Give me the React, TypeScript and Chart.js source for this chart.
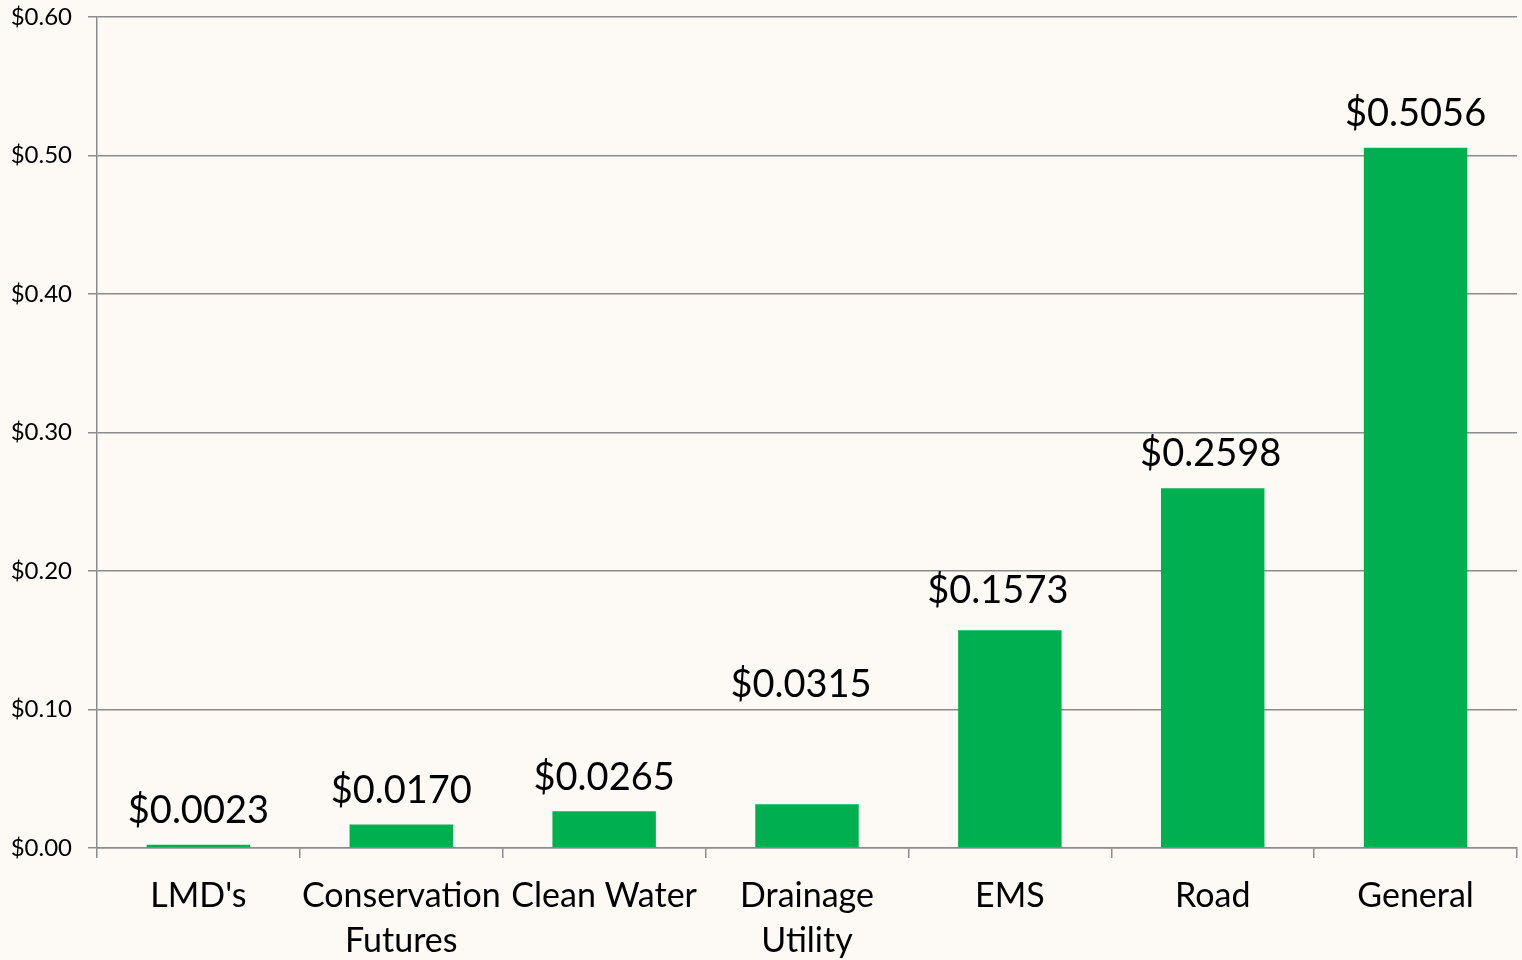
import React, { useEffect, useRef } from "react";
import { Chart, registerables } from "chart.js";

Chart.register(...registerables);

const categories: (string | string[])[] = [
  "LMD's",
  ["Conservation", "Futures"],
  "Clean Water",
  ["Drainage", "Utility"],
  "EMS",
  "Road",
  "General",
];
const values: number[] = [0.0023, 0.017, 0.0265, 0.0315, 0.1573, 0.2598, 0.5056];
const valueLabels: string[] = ["$0.0023", "$0.0170", "$0.0265", "$0.0315", "$0.1573", "$0.2598", "$0.5056"];
const yTicks: number[] = [0, 0.1, 0.2, 0.3, 0.4, 0.5, 0.6];

// extra lift / shift of individual data labels (styling only)
const labelLift: number[] = [0, 0, 0, 86, 5, 0, 0];
const labelShift: number[] = [0, 0, 0, -6, -12, -2, 0];

const FONT = "Lato, 'Open Sans', sans-serif";
const BG = "#FDF9F5";
const GRID = "#8C8C8C";

const dataLabelPlugin = {
  id: "dataLabels",
  afterDatasetsDraw(chart: any) {
    const ctx = chart.ctx;
    const meta = chart.getDatasetMeta(0);
    ctx.save();
    ctx.font = `38px ${FONT}`;
    ctx.fillStyle = "#000";
    ctx.textAlign = "center";
    ctx.textBaseline = "middle";
    meta.data.forEach((bar: any, i: number) => {
      ctx.fillText(valueLabels[i], bar.x + labelShift[i], bar.y - 34 - labelLift[i]);
    });
    ctx.restore();
  },
};

const bgPlugin = {
  id: "bg",
  beforeDraw(chart: any) {
    const ctx = chart.ctx;
    ctx.save();
    ctx.fillStyle = BG;
    ctx.fillRect(0, 0, chart.width, chart.height);
    ctx.restore();
  },
};

export default function App() {
  const ref = useRef<HTMLCanvasElement | null>(null);
  useEffect(() => {
    document.body.style.margin = "0";
    document.body.style.background = BG;
    const chart = new Chart(ref.current!, {
      type: "bar",
      data: {
        labels: categories,
        datasets: [
          {
            data: values,
            backgroundColor: "#00B050",
            barPercentage: 0.51,
            categoryPercentage: 1,
          },
        ],
      },
      options: {
        animation: false,
        responsive: false,
        maintainAspectRatio: false,
        layout: { padding: { top: 17, right: 5, left: 0, bottom: 0 } },
        plugins: { legend: { display: false }, tooltip: { enabled: false } },
        scales: {
          x: {
            grid: {
              offset: true,
              drawOnChartArea: false,
              drawTicks: true,
              tickLength: 10,
              color: GRID,
              lineWidth: 1.5,
            },
            border: { color: GRID, width: 1.5 },
            ticks: {
              color: "#000",
              font: { family: FONT, size: 34, lineHeight: 1.32 },
              padding: 16,
              maxRotation: 0,
              autoSkip: false,
            },
            afterFit(scale: any) {
              scale.height = 112;
              scale.paddingLeft = 0;
              scale.paddingRight = 0;
            },
          },
          y: {
            min: 0,
            max: 0.6,
            afterBuildTicks(scale: any) {
              scale.ticks = yTicks.map((v) => ({ value: v }));
            },
            grid: {
              color: GRID,
              lineWidth: 1.5,
              drawTicks: true,
              tickLength: 9,
            },
            border: { color: GRID, width: 1.5 },
            ticks: {
              color: "#000",
              font: { family: FONT, size: 24 },
              padding: 16,
              callback: (v: any) => "$" + Number(v).toFixed(2),
            },
            afterFit(scale: any) {
              scale.width = 97;
              scale.paddingTop = 0;
              scale.paddingBottom = 0;
            },
          },
        },
      },
      plugins: [bgPlugin, dataLabelPlugin],
    });
    return () => chart.destroy();
  }, []);
  return (
    <div style={{ width: 1522, height: 960, background: BG }}>
      <canvas ref={ref} width={1522} height={960} style={{ display: "block" }} />
    </div>
  );
}
